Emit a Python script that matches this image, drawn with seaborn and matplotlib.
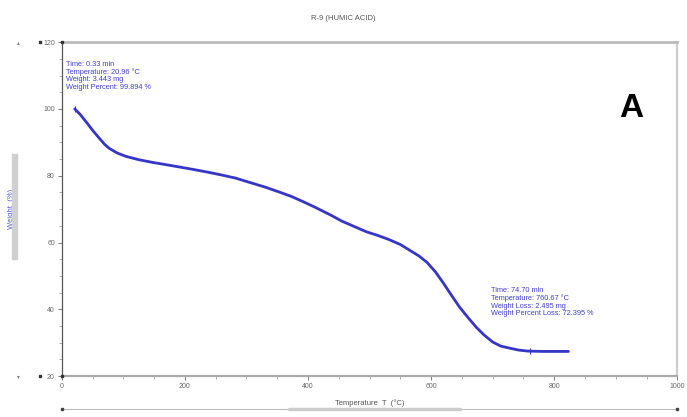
import numpy as np
import pandas as pd
import seaborn as sns
import matplotlib.pyplot as plt

# TGA curve
temperature = [21, 30, 40, 50, 61, 70, 77, 90, 104, 125, 147, 179, 210, 239, 260, 282, 305,
               330, 352, 373, 390, 411, 437, 455, 475, 495, 512, 530, 550, 565, 580, 593,
               607, 620, 633, 646, 660, 673, 686, 700, 713, 727, 742, 757, 780, 800, 823]
weight = [100.0, 98.3, 96.0, 93.6, 91.2, 89.3, 88.2, 86.8, 85.8, 84.8, 84.0, 83.0, 82.0,
          81.0, 80.2, 79.3, 78.0, 76.6, 75.2, 73.8, 72.4, 70.6, 68.2, 66.4, 64.8, 63.2,
          62.2, 61.0, 59.4, 57.7, 56.0, 54.1, 51.2, 47.8, 44.2, 40.7, 37.5, 34.7, 32.3,
          30.2, 29.0, 28.4, 27.8, 27.5, 27.4, 27.4, 27.4]

# cursor readouts
cursor_temp = [20.96, 760.67]
cursor_weight = [99.894, 27.5]
start_label = ["Time: 0.33 min", "Temperature: 20.96 \u00b0C",
               "Weight: 3.443 mg", "Weight Percent: 99.894 %"]
end_label = ["Time: 74.70 min", "Temperature: 760.67 \u00b0C",
             "Weight Loss: 2.495 mg", "Weight Percent Loss: 72.395 %"]

df = pd.DataFrame({"temp": temperature, "weight": weight})

sns.set_theme(style="white")
plt.rcParams['font.family'] = ['Liberation Sans', 'DejaVu Sans']

fig = plt.figure(figsize=(6.87, 4.17), dpi=100)
ax = fig.add_axes([0.090, 0.098, 0.896, 0.801])

sns.lineplot(data=df, x="temp", y="weight", ax=ax, color="#3535c8", linewidth=2.0)
ax.plot(cursor_temp, cursor_weight, linestyle="none", marker="|", markersize=5,
        color="#3535c8", markeredgewidth=0.8)

ax.set_xlim(0, 1000)
ax.set_ylim(20, 120)
ax.set_xticks([0, 200, 400, 600, 800, 1000])
ax.set_xticks(np.arange(0, 1001, 50), minor=True)
ax.set_yticks([20, 40, 60, 80, 100, 120])
ax.set_yticks(np.arange(20, 121, 5), minor=True)
ax.tick_params(axis="both", which="major", length=3, width=0.6, color="#666666",
               labelsize=5, labelcolor="#666666", direction="out", pad=2)
ax.tick_params(axis="both", which="minor", length=2, width=0.5, color="#888888",
               direction="out")
ax.tick_params(bottom=True, left=True, which="both")

ax.spines["left"].set_color("#555555")
ax.spines["left"].set_linewidth(0.9)
ax.spines["bottom"].set_color("#aaaaaa")
ax.spines["bottom"].set_linewidth(1.6)
ax.spines["top"].set_color("#bbbbbb")
ax.spines["top"].set_linewidth(2.0)
ax.spines["right"].set_color("#cccccc")
ax.spines["right"].set_linewidth(1.6)

ax.set_xlabel("Temperature  T  (\u00b0C)", fontsize=5.5, color="#555555", labelpad=7)
ax.set_ylabel("Weight  (%)", fontsize=5.5, color="#5555cc", labelpad=20)
fig.text(0.5, 0.955, "R-9 (HUMIC ACID)", ha="center", va="center",
         fontsize=5.5, color="#555555")

ax.text(6, 114.3, "\n".join(start_label), fontsize=5.3, color="#4040cc",
        va="top", ha="left", linespacing=1.05)
ax.text(697, 46.6, "\n".join(end_label), fontsize=5.3, color="#4040cc",
        va="top", ha="left", linespacing=1.05)

ax.text(0.925, 0.80, "A", transform=ax.transAxes, fontsize=24, fontweight="bold",
        color="black", ha="center", va="center")

# viewer chrome: scrollbars and small markers
fig.patches.append(plt.Rectangle((0.017, 0.38), 0.008, 0.25, transform=fig.transFigure,
                                 color="#d0d0d0", zorder=0))
fig.lines.append(plt.Line2D([0.090, 0.986], [0.019, 0.019], transform=fig.transFigure,
                            color="#bbbbbb", linewidth=0.8))
fig.lines.append(plt.Line2D([0.42, 0.67], [0.019, 0.019], transform=fig.transFigure,
                            color="#cccccc", linewidth=2.5))
for fx in (0.090, 0.986):
    fig.lines.append(plt.Line2D([fx], [0.019], transform=fig.transFigure, marker="s",
                                markersize=1.5, color="#444444"))
for fy, sym in ((0.899, "\u25b4"), (0.098, "\u25be")):
    fig.text(0.026, fy, sym, fontsize=4, color="#777777", ha="center", va="center")
    fig.lines.append(plt.Line2D([0.058], [fy], transform=fig.transFigure, marker="s",
                                markersize=2, color="#333333"))
    fig.lines.append(plt.Line2D([0.090], [fy], transform=fig.transFigure, marker="s",
                                markersize=2, color="#333333"))

fig.savefig("out.png", dpi=100)
